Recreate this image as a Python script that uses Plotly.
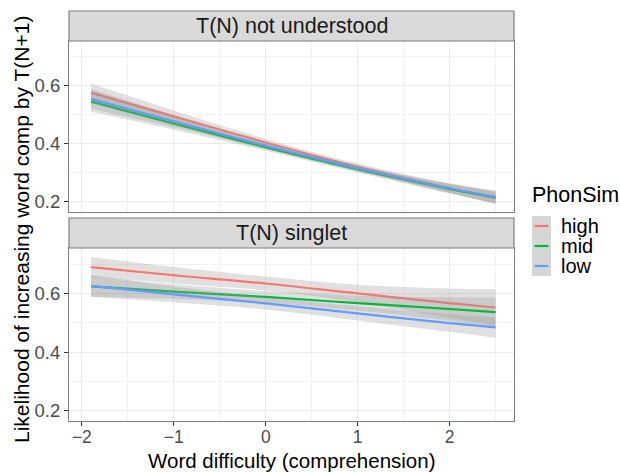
import plotly.graph_objects as go

# ---- data ----
x_vals = [-1.9, -1.0, 0.0, 1.0, 2.0, 2.5]
groups = ["high", "mid", "low"]
colors = {"high": "#F8766D", "mid": "#00BA38", "low": "#619CFF"}

# Panel 1: T(N) not understood
top_high = [0.577, 0.495, 0.405, 0.321, 0.247, 0.214]
top_mid = [0.546, 0.470, 0.388, 0.312, 0.245, 0.215]
top_low = [0.555, 0.478, 0.394, 0.316, 0.247, 0.217]
top_high_se = [0.031, 0.020, 0.012, 0.011, 0.016, 0.022]
top_mid_se = [0.035, 0.021, 0.012, 0.011, 0.016, 0.021]
top_low_se = [0.034, 0.021, 0.012, 0.011, 0.016, 0.022]

# Panel 2: T(N) singlet
bot_high = [0.690, 0.662, 0.634, 0.600, 0.567, 0.552]
bot_mid = [0.624, 0.606, 0.588, 0.567, 0.547, 0.536]
bot_low = [0.626, 0.597, 0.566, 0.532, 0.499, 0.484]
bot_high_se = [0.034, 0.028, 0.024, 0.030, 0.050, 0.062]
bot_mid_se = [0.035, 0.025, 0.020, 0.025, 0.040, 0.050]
bot_low_se = [0.038, 0.027, 0.021, 0.024, 0.030, 0.035]

panels = [
    ("T(N) not understood", "x2", "y2",
     {"high": (top_high, top_high_se), "mid": (top_mid, top_mid_se), "low": (top_low, top_low_se)}),
    ("T(N) singlet", "x", "y",
     {"high": (bot_high, bot_high_se), "mid": (bot_mid, bot_mid_se), "low": (bot_low, bot_low_se)}),
]

FONT = "Liberation Sans, Arial, sans-serif"
W, H = 620, 472
L, R, T, B = 69, 514, 11, 421
TICK_SIZE = 18.5
XTICK_SIZE = 17.5
TITLE_SIZE = 21.5
LEG_SIZE = 20


def px(xp):
    return (xp - L) / (R - L)


def py(yp):
    return (B - yp) / (B - T)


fig = go.Figure()
for title, xa, ya, data in panels:
    for g in groups:
        m, se = data[g]
        lo = [a - b for a, b in zip(m, se)]
        hi = [a + b for a, b in zip(m, se)]
        fig.add_trace(go.Scatter(x=x_vals, y=lo, xaxis=xa, yaxis=ya, mode="lines",
                                 line=dict(width=0, shape="spline"), showlegend=False,
                                 hoverinfo="skip"))
        fig.add_trace(go.Scatter(x=x_vals, y=hi, xaxis=xa, yaxis=ya, mode="lines",
                                 line=dict(width=0, shape="spline"), fill="tonexty",
                                 fillcolor="rgba(153,153,153,0.3)", showlegend=False,
                                 hoverinfo="skip"))
        fig.add_trace(go.Scatter(x=x_vals, y=m, xaxis=xa, yaxis=ya, mode="lines",
                                 line=dict(width=2.2, color=colors[g], shape="spline"),
                                 name=g, showlegend=False))

y_range = [0.165, 0.755]
x_range = [-2.14, 2.70]
top_dom = [py(212), py(41)]
bot_dom = [0, py(248)]

common_x = dict(range=x_range, tickvals=[-2, -1, 0, 1, 2], showgrid=True, gridcolor="#EBEBEB",
                gridwidth=1.1, zeroline=False, showline=True, mirror=True, linecolor="#7F7F7F",
                linewidth=1.2,
                minor=dict(tickvals=[-1.5, -0.5, 0.5, 1.5, 2.5], showgrid=True,
                           gridcolor="#F2F2F2", gridwidth=0.6))
common_y = dict(range=y_range, tickvals=[0.2, 0.4, 0.6], ticktext=["0.2", "0.4", "0.6"],
                showgrid=True, gridcolor="#EBEBEB", gridwidth=1.1, zeroline=False,
                showline=True, mirror=True, linecolor="#7F7F7F", linewidth=1.2,
                ticks="outside", ticklen=4, tickcolor="#333333", tickwidth=1,
                tickfont=dict(family=FONT, size=TICK_SIZE, color="#4D4D4D"),
                minor=dict(tickvals=[0.3, 0.5, 0.7], showgrid=True, gridcolor="#F2F2F2",
                           gridwidth=0.6))

fig.update_layout(
    width=W, height=H,
    margin=dict(l=L, r=W - R, t=T, b=H - B),
    paper_bgcolor="white", plot_bgcolor="white",
    font=dict(family=FONT),
    showlegend=False,
    xaxis=dict(domain=[0, 1], anchor="y", ticks="outside", ticklen=4, tickcolor="#333333",
               ticklabelstandoff=-4,
               tickfont=dict(family=FONT, size=XTICK_SIZE, color="#4D4D4D"), **common_x),
    xaxis2=dict(domain=[0, 1], anchor="y2", matches="x", showticklabels=False, ticks="",
                **common_x),
    yaxis=dict(domain=bot_dom, anchor="x", **common_y),
    yaxis2=dict(domain=top_dom, anchor="x2", **common_y),
)

shapes = []
annotations = []
# facet strips
for (title, *_), (s0, s1) in zip(panels, [(41, 11), (248, 218)]):
    shapes.append(dict(type="rect", xref="paper", yref="paper", x0=0, x1=1,
                       y0=py(s0), y1=py(s1), fillcolor="#D9D9D9",
                       line=dict(color="#7F7F7F", width=1.2), layer="above"))
    annotations.append(dict(text=title, xref="paper", yref="paper", x=0.5,
                            y=(py(s0) + py(s1)) / 2, showarrow=False,
                            font=dict(family=FONT, size=TITLE_SIZE, color="#1A1A1A"),
                            xanchor="center", yanchor="middle"))

# axis titles
annotations.append(dict(text="Word difficulty (comprehension)", xref="paper", yref="paper",
                        x=px(292), y=py(473), showarrow=False, xanchor="center",
                        yanchor="bottom", borderpad=0,
                        font=dict(family=FONT, size=20.5, color="#000000")))
annotations.append(dict(text="Likelihood of increasing word comp by T(N+1)", xref="paper",
                        yref="paper", x=px(21), y=py(230), textangle=-90, showarrow=False,
                        xanchor="center", yanchor="middle",
                        font=dict(family=FONT, size=TITLE_SIZE - 0.5, color="#000000")))

# legend (drawn manually, ggplot style)
annotations.append(dict(text="PhonSim", xref="paper", yref="paper", x=px(530), y=py(195),
                        xanchor="left", yanchor="middle", showarrow=False,
                        font=dict(family=FONT, size=TITLE_SIZE, color="#000000")))
for i, g in enumerate(groups):
    yc = 226 + 20 * i
    shapes.append(dict(type="rect", xref="paper", yref="paper", x0=px(532), x1=px(551),
                       y0=py(yc + 10), y1=py(yc - 10), fillcolor="#D6D6D6",
                       line=dict(width=0)))
    shapes.append(dict(type="line", xref="paper", yref="paper", x0=px(534.5), x1=px(548.5),
                       y0=py(yc), y1=py(yc), line=dict(color=colors[g], width=2.2)))
    annotations.append(dict(text=g, xref="paper", yref="paper", x=px(560), y=py(yc),
                            xanchor="left", yanchor="middle", showarrow=False, borderpad=0,
                            font=dict(family=FONT, size=LEG_SIZE, color="#000000")))

fig.update_layout(shapes=shapes, annotations=annotations)
fig.write_html("out.html", config={"displayModeBar": False},
               post_script="document.body.style.margin='0';document.body.style.overflow='hidden';")
